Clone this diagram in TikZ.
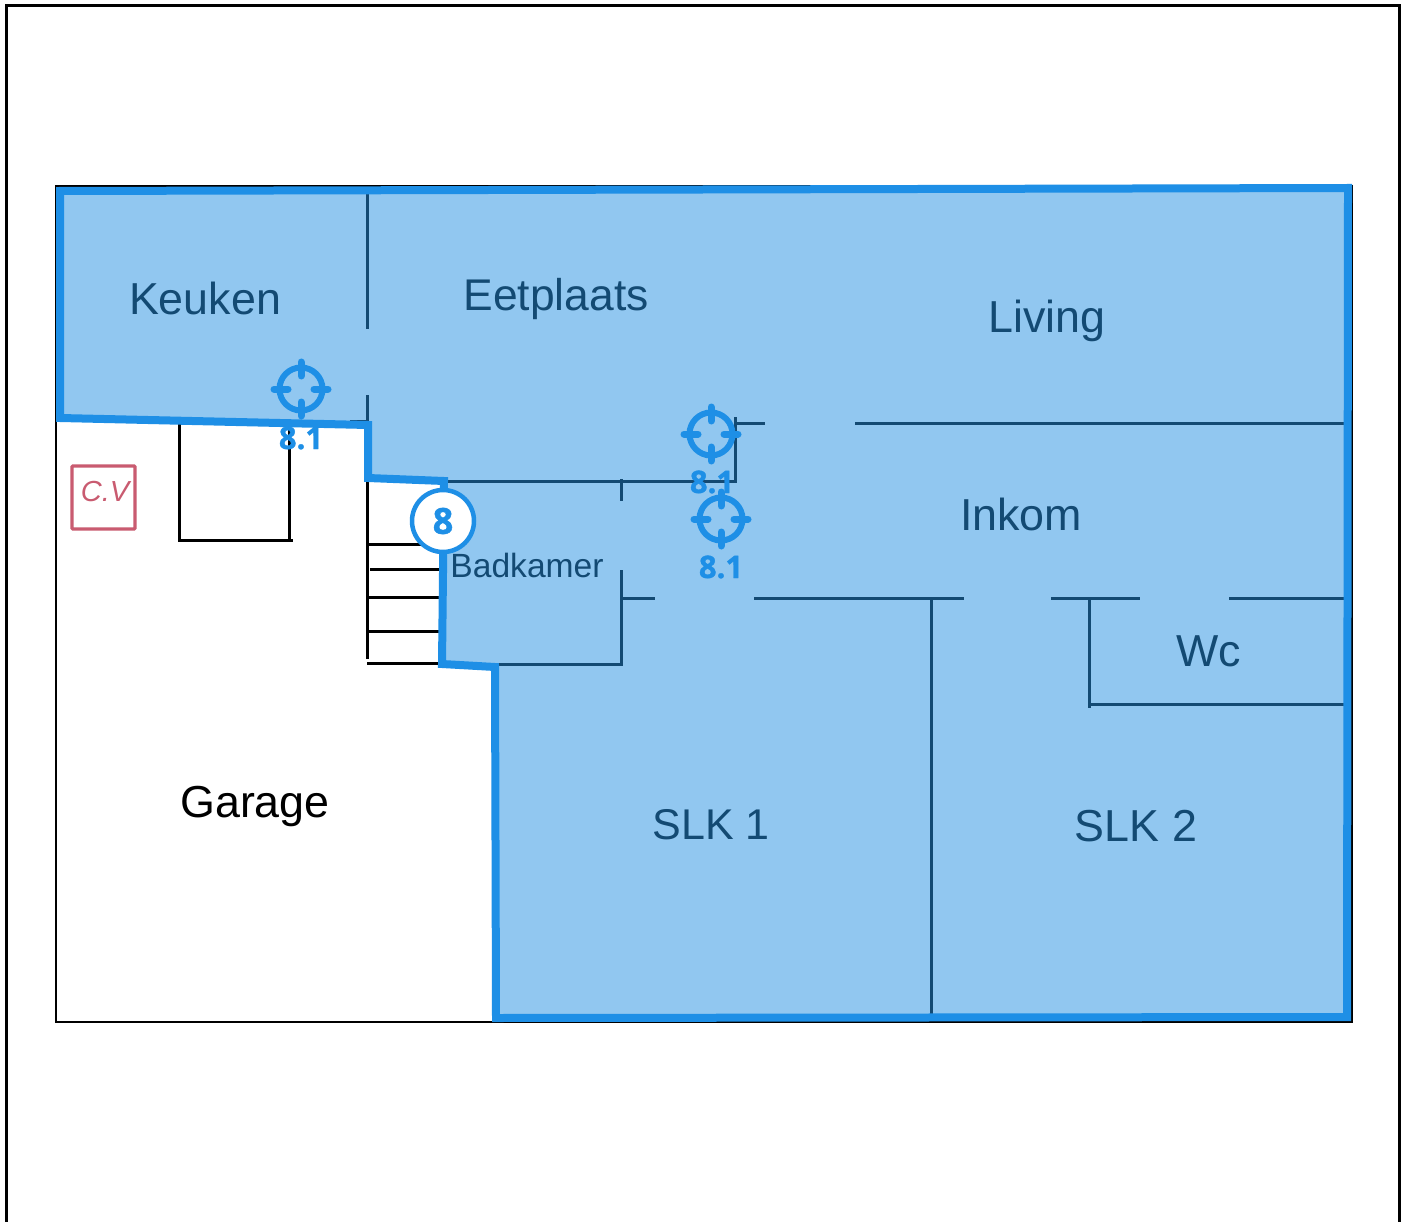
\documentclass[tikz,border=0pt]{standalone}
\usepackage{fontspec}
\setmainfont{Liberation Sans}
\newfontfamily\markfont[BoldFeatures={FakeBold=1.2}]{Open Sans}
\definecolor{zonefill}{HTML}{91C7F0}
\definecolor{zoneline}{HTML}{1E8FE6}
\definecolor{wallblue}{HTML}{134A73}
\definecolor{cvred}{HTML}{C95B70}
\tikzset{
  wall/.style={line width=3pt,wallblue},
  plan/.style={line width=3pt,black},
  room/.style={anchor=base,inner sep=0pt,text=wallblue,font=\fontsize{44.8}{44.8}\selectfont},
  markno/.style={inner sep=0pt,text=zoneline,font=\markfont\bfseries\fontsize{31}{31}\selectfont},
  targetmark/.pic={
    \draw[zoneline,line width=6pt] (0,0) circle (21.5);
    \draw[zoneline,line width=7pt,line cap=round] (-27,0) -- (-13,0) (13,0) -- (27,0) (0,-27) -- (0,-13) (0,13) -- (0,27);
  }
}
\begin{document}
\begin{tikzpicture}[x=1pt,y=-1pt]
\useasboundingbox (0,0) rectangle (1405,1222);
\fill[white] (0,0) rectangle (1405,1222);
\draw[line width=3pt] (6,1222) -- (6,5.5) -- (1399,5.5) -- (1399,1222);
\draw[line width=2.6pt] (56,186) rectangle (1352,1022);
\fill[zonefill] (60,191) -- (1348,188) -- (1347,1017) -- (496,1018) -- (495,667) -- (442,664) -- (444,481) -- (368,478) -- (368,425) -- (60,418) -- cycle;
% walls inside the zone
\draw[wall] (367,194) -- (367,329);
\draw[wall] (367,395) -- (367,421) -- (350,421);
\draw[wall] (735,423) -- (765,423);
\draw[wall] (855,423) -- (1345,423);
\draw[wall] (735,417) -- (735,483);
\draw[wall] (448,481) -- (735,481);
\draw[wall] (621,479) -- (621,501);
\draw[wall] (621,570) -- (621,664) -- (499,664);
\draw[wall] (621,598) -- (655,598);
\draw[wall] (754,598) -- (964,598);
\draw[wall] (931,598) -- (931,1016);
\draw[wall] (1051,598) -- (1140,598);
\draw[wall] (1229,598) -- (1345,598);
\draw[wall] (1089,598) -- (1089,708);
\draw[wall] (1089,704) -- (1345,704);
% garage and stairs
\draw[plan] (179,424) -- (179,542);
\draw[plan] (178,540) -- (293,540);
\draw[plan] (289,424) -- (289,542);
\draw[plan] (367,482) -- (367,659);
\draw[plan] (367,544) -- (425,544);
\draw[plan] (370,569) -- (440,569);
\draw[plan] (367,597) -- (440,597);
\draw[plan] (367,631) -- (440,631);
\draw[plan] (367,663) -- (440,663);
\draw[zoneline,line width=8pt,line join=miter] (60,191) -- (1348,188) -- (1347,1017) -- (496,1018) -- (495,667) -- (442,664) -- (444,481) -- (368,478) -- (368,425) -- (60,418) -- cycle;
% cv box
\draw[cvred,line width=3.4pt,rounded corners=1pt] (72,466) rectangle (135,529);
\node[text=cvred,inner sep=0pt,font=\fontsize{29}{29}\selectfont\itshape] (cv) at (105,492) {C.V};
% rooms
\node[room] (keuken) at (205,315) {Keuken};
\node[room,font=\fontsize{44.4}{44.4}\selectfont] (eetplaats) at (556,311) {Eetplaats};
\node[room] (living) at (1047,333) {Living};
\node[room] (inkom) at (1021,530) {Inkom};
\node[room] (wc) at (1209,666) {Wc};
\node[room,font=\fontsize{43}{43}\selectfont] (slk1) at (711,839) {SLK 1};
\node[room] (slk2) at (1136,841) {SLK 2};
\node[room,text=black] (garage) at (255,817) {Garage};
\node[room,font=\fontsize{33.6}{33.6}\selectfont] (badkamer) at (527,577) {Badkamer};
% marks
\pic at (301,389) {targetmark};
\pic at (711,434) {targetmark};
\pic at (721,519) {targetmark};
\node[markno] (mark1) at (301,438) {8.1};
\node[markno] (mark2) at (712,482) {8.1};
\node[markno] (mark3) at (721,567) {8.1};
\node[circle,draw=zoneline,fill=white,line width=4.5pt,minimum size=62pt,inner sep=0pt,text=zoneline,font=\markfont\bfseries\fontsize{36}{36}\selectfont] (zone) at (443,521) {8};
\end{tikzpicture}
\end{document}
